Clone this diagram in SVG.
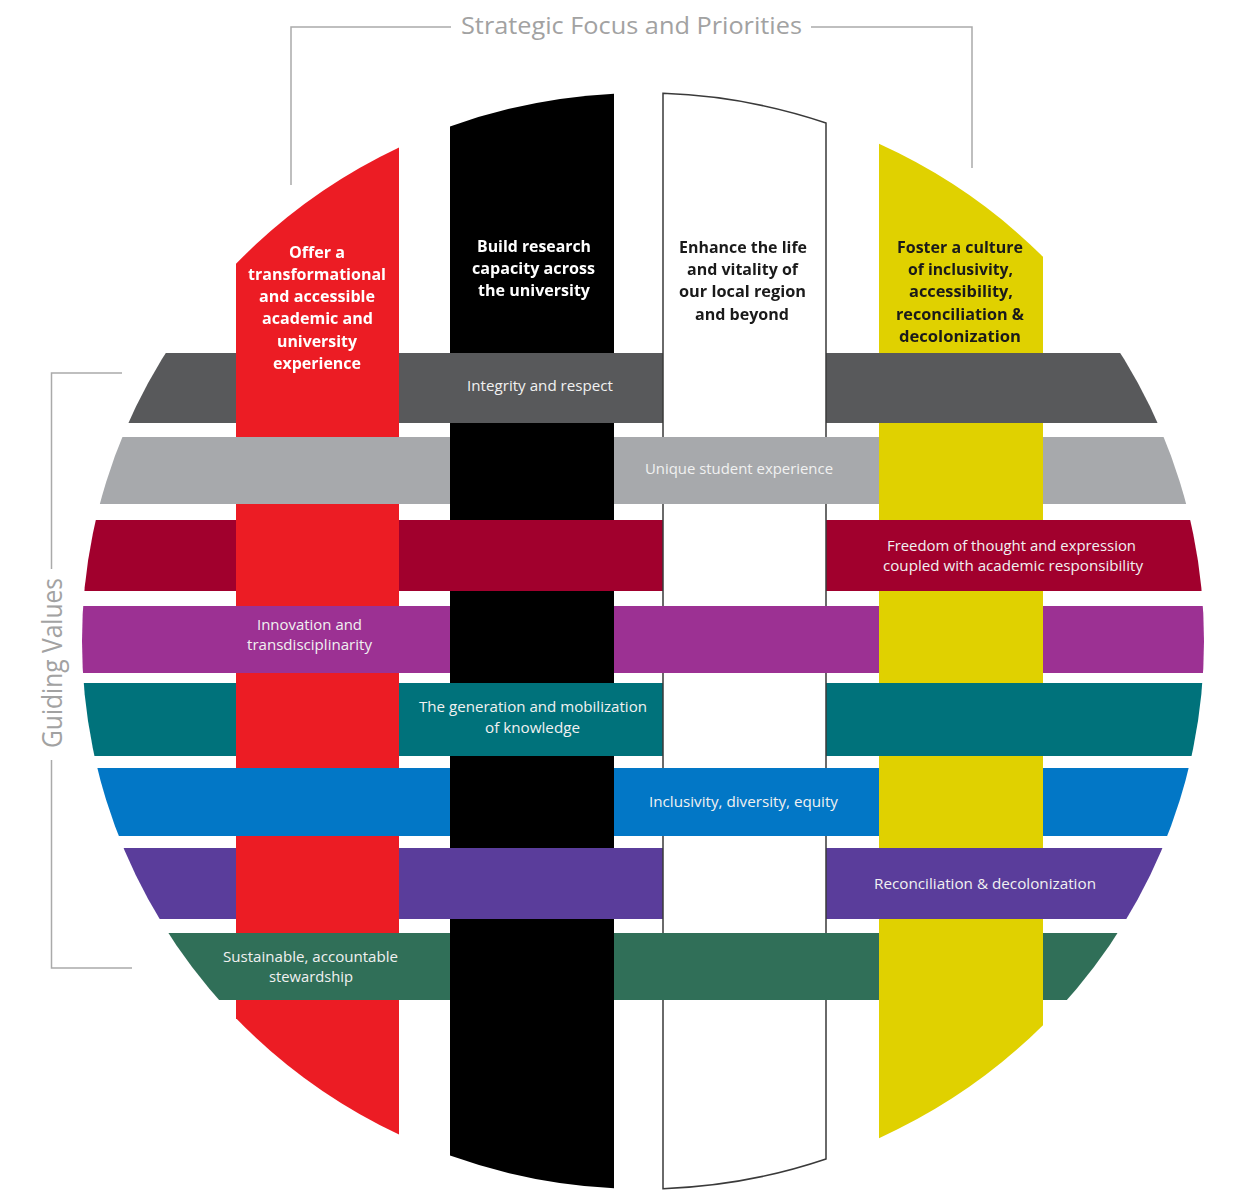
<svg xmlns="http://www.w3.org/2000/svg" width="1248" height="1200" viewBox="0 0 1248 1200">
<defs>
<style>
.ct { font-family: "Open Sans", "Liberation Sans", sans-serif; font-weight: 700; font-size: 16px; }
.ct-w { fill: #ffffff; }
.ct-k { fill: #1a1a1a; }
.lbl { font-family: "Open Sans", "Liberation Sans", sans-serif; font-size: 15px; fill: #f1f1f1; }
.hdr { font-family: "Open Sans", "Liberation Sans", sans-serif; fill: #a2a2a2; }
.brk { fill: none; stroke: #aaaaaa; stroke-width: 1.5; }
</style>
<clipPath id="disc"><ellipse cx="643" cy="641" rx="561" ry="548"/></clipPath>
<!-- red & white columns pass under the even bands -->
<mask id="weaveA" maskUnits="userSpaceOnUse" x="0" y="0" width="1248" height="1200">
<rect x="0" y="0" width="1248" height="1200" fill="#fff"/>
<rect x="0" y="437" width="1248" height="67" fill="#000"/>
<rect x="0" y="606" width="1248" height="67" fill="#000"/>
<rect x="0" y="768" width="1248" height="68" fill="#000"/>
<rect x="0" y="933" width="1248" height="67" fill="#000"/>
</mask>
<!-- black & yellow columns pass under the odd bands -->
<mask id="weaveB" maskUnits="userSpaceOnUse" x="0" y="0" width="1248" height="1200">
<rect x="0" y="0" width="1248" height="1200" fill="#fff"/>
<rect x="0" y="353" width="1248" height="70" fill="#000"/>
<rect x="0" y="520" width="1248" height="71" fill="#000"/>
<rect x="0" y="683" width="1248" height="73" fill="#000"/>
<rect x="0" y="848" width="1248" height="71" fill="#000"/>
</mask>
</defs>

<rect x="0" y="0" width="1248" height="1200" fill="#ffffff"/>

<g id="values" clip-path="url(#disc)">
<g id="band-integrity">
<rect x="0" y="353" width="1248" height="70" fill="#58595b"/>
<text class="lbl" x="467" y="391" textLength="146" lengthAdjust="spacingAndGlyphs">Integrity and respect</text>
</g>
<g id="band-student">
<rect x="0" y="437" width="1248" height="67" fill="#a7a9ac"/>
<text class="lbl" x="645" y="474" textLength="188" lengthAdjust="spacingAndGlyphs">Unique student experience</text>
</g>
<g id="band-freedom">
<rect x="0" y="520" width="1248" height="71" fill="#a1002d"/>
<text class="lbl" x="887" y="550.5" textLength="249" lengthAdjust="spacingAndGlyphs">Freedom of thought and expression</text>
<text class="lbl" x="883" y="570.5" textLength="260" lengthAdjust="spacingAndGlyphs">coupled with academic responsibility</text>
</g>
<g id="band-innovation">
<rect x="0" y="606" width="1248" height="67" fill="#9c3193"/>
<text class="lbl" x="257" y="630" textLength="105" lengthAdjust="spacingAndGlyphs">Innovation and</text>
<text class="lbl" x="247" y="650" textLength="125" lengthAdjust="spacingAndGlyphs">transdisciplinarity</text>
</g>
<g id="band-knowledge">
<rect x="0" y="683" width="1248" height="73" fill="#00727b"/>
<text class="lbl" x="419" y="712" textLength="228" lengthAdjust="spacingAndGlyphs">The generation and mobilization</text>
<text class="lbl" x="485" y="733" textLength="95" lengthAdjust="spacingAndGlyphs">of knowledge</text>
</g>
<g id="band-inclusivity">
<rect x="0" y="768" width="1248" height="68" fill="#0277c6"/>
<text class="lbl" x="649" y="806.5" textLength="189" lengthAdjust="spacingAndGlyphs">Inclusivity, diversity, equity</text>
</g>
<g id="band-reconciliation">
<rect x="0" y="848" width="1248" height="71" fill="#5a3d9b"/>
<text class="lbl" x="874" y="889" textLength="222" lengthAdjust="spacingAndGlyphs">Reconciliation &amp; decolonization</text>
</g>
<g id="band-stewardship">
<rect x="0" y="933" width="1248" height="67" fill="#306f58"/>
<text class="lbl" x="223" y="961.5" textLength="175" lengthAdjust="spacingAndGlyphs">Sustainable, accountable</text>
<text class="lbl" x="269" y="981.5" textLength="84" lengthAdjust="spacingAndGlyphs">stewardship</text>
</g>
</g>

<g id="priorities">
<g id="col-red" mask="url(#weaveA)">
<path d="M236,263.85 L236,1018.15 A561,548 0 0 0 399,1134.45 L399,147.55 A561,548 0 0 0 236,263.85 Z" fill="#ec1c24"/>
<text class="ct ct-w" x="289" y="257.5" textLength="56" lengthAdjust="spacingAndGlyphs">Offer a</text>
<text class="ct ct-w" x="248" y="279.8" textLength="138" lengthAdjust="spacingAndGlyphs">transformational</text>
<text class="ct ct-w" x="259" y="302.1" textLength="116" lengthAdjust="spacingAndGlyphs">and accessible</text>
<text class="ct ct-w" x="262" y="324.4" textLength="111" lengthAdjust="spacingAndGlyphs">academic and</text>
<text class="ct ct-w" x="277" y="346.7" textLength="80" lengthAdjust="spacingAndGlyphs">university</text>
<text class="ct ct-w" x="273" y="369" textLength="88" lengthAdjust="spacingAndGlyphs">experience</text>
</g>
<g id="col-black" mask="url(#weaveB)">
<path d="M450,126.45 L450,1155.55 A561,548 0 0 0 614,1188.27 L614,93.73 A561,548 0 0 0 450,126.45 Z" fill="#000000"/>
<text class="ct ct-w" x="477" y="251.5" textLength="114" lengthAdjust="spacingAndGlyphs">Build research</text>
<text class="ct ct-w" x="472" y="273.5" textLength="123" lengthAdjust="spacingAndGlyphs">capacity across</text>
<text class="ct ct-w" x="478" y="295.5" textLength="112" lengthAdjust="spacingAndGlyphs">the university</text>
</g>
<g id="col-white" mask="url(#weaveA)">
<path d="M663,93.35 L663,1188.65 A561,548 0 0 0 826,1159.02 L826,122.98 A561,548 0 0 0 663,93.35 Z" fill="#ffffff" stroke="#3a3a3a" stroke-width="1.5"/>
<text class="ct ct-k" x="679" y="252.8" textLength="128" lengthAdjust="spacingAndGlyphs">Enhance the life</text>
<text class="ct ct-k" x="687" y="275.1" textLength="111" lengthAdjust="spacingAndGlyphs">and vitality of</text>
<text class="ct ct-k" x="679" y="297.4" textLength="127" lengthAdjust="spacingAndGlyphs">our local region</text>
<text class="ct ct-k" x="695" y="319.7" textLength="94" lengthAdjust="spacingAndGlyphs">and beyond</text>
</g>
<g id="col-yellow" mask="url(#weaveB)">
<path d="M879,143.85 L879,1138.15 A561,548 0 0 0 1043,1025.23 L1043,256.77 A561,548 0 0 0 879,143.85 Z" fill="#e0d100"/>
<text class="ct ct-k" x="897" y="252.8" textLength="126" lengthAdjust="spacingAndGlyphs">Foster a culture</text>
<text class="ct ct-k" x="908" y="275.1" textLength="105" lengthAdjust="spacingAndGlyphs">of inclusivity,</text>
<text class="ct ct-k" x="909" y="297.4" textLength="104" lengthAdjust="spacingAndGlyphs">accessibility,</text>
<text class="ct ct-k" x="896" y="319.7" textLength="128" lengthAdjust="spacingAndGlyphs">reconciliation &amp;</text>
<text class="ct ct-k" x="899" y="342.2" textLength="122" lengthAdjust="spacingAndGlyphs">decolonization</text>
</g>
</g>

<g id="brackets">
<path class="brk" d="M291,185 V27 H451 M811,27 H972 V168"/>
<path class="brk" d="M122,373 H51.5 V569 M51.5,760 V968 H132"/>
</g>

<g id="headings">
<text class="hdr" x="461" y="34" font-size="24" textLength="341" lengthAdjust="spacingAndGlyphs">Strategic Focus and Priorities</text>
<text class="hdr" transform="translate(62,748) rotate(-90)" x="0" y="0" font-size="27" textLength="170" lengthAdjust="spacingAndGlyphs">Guiding Values</text>
</g>
</svg>
